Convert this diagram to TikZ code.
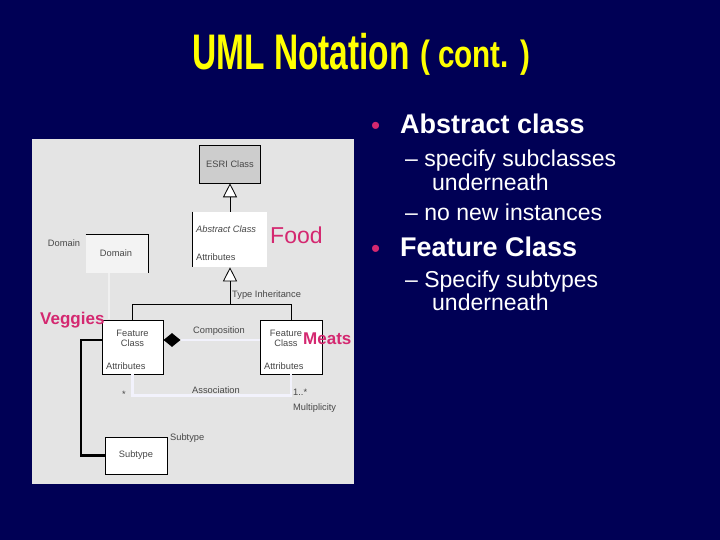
\documentclass[tikz,border=0pt]{standalone}
\usepackage{fontspec}
\usepackage{graphicx}
\setmainfont{Liberation Sans}
\usetikzlibrary{arrows.meta,shapes.geometric}
\definecolor{navy}{RGB}{0,0,85}
\definecolor{panelgray}{RGB}{228,228,228}
\definecolor{esrigray}{RGB}{205,205,205}
\definecolor{domgray}{RGB}{243,243,243}
\definecolor{pinkish}{RGB}{212,40,112}
\definecolor{lightline}{RGB}{242,242,252}
\definecolor{faintline}{RGB}{240,240,240}
\definecolor{titleyellow}{RGB}{255,255,0}
\begin{document}
\begin{tikzpicture}[x=1pt,y=-1pt,
  uml/.style={font=\fontsize{9.3}{10.3}\selectfont, text=black!72, inner sep=0pt},
  umlbox/.style={fill=white, draw=black, line width=0.6pt, inner sep=0pt},
  conn/.style={draw=black, line width=0.8pt},
  gen/.style={-{Triangle[length=14pt,width=14pt,fill=white]}},
  lightconn/.style={draw=lightline, line width=2.6pt},
  subconn/.style={draw=black, line width=2.4pt},
  tag/.style={text=pinkish, inner sep=0pt},
  headbullet/.style={anchor=base west, inner sep=0pt, text=white, font=\bfseries\fontsize{27}{30}\selectfont},
  subitem/.style={anchor=base west, inner sep=0pt, text=white, font=\fontsize{23}{26}\selectfont},
  dot/.style={anchor=base west, inner sep=0pt, text=pinkish, font=\fontsize{26}{26}\selectfont}
]
% background and panel
\fill[navy] (0,0) rectangle (720,540);
\useasboundingbox (0,0) rectangle (720,540);
\fill[panelgray] (32,139) rectangle (354,484);

% title
\node[anchor=base west, inner sep=0pt, text=titleyellow, font=\bfseries\fontsize{50}{50}\selectfont] (title) at (192,70) {\scalebox{0.67}[1]{UML Notation}};
\node[anchor=base west, inner sep=0pt, text=titleyellow, font=\bfseries\fontsize{38}{38}\selectfont] (cont) at (420,68) {\scalebox{0.78}[1]{( cont. )}};

% boxes
\node[umlbox, fill=esrigray, minimum width=61pt, minimum height=38pt] (esri) at (230,164) {};
\node[umlbox, draw=none, minimum width=74pt, minimum height=55pt] (abs) at (230,239.5) {};
\draw[line width=0.6pt] (abs.north west) -- (abs.south west);
\node[umlbox, draw=none, fill=domgray, minimum width=62pt, minimum height=38pt] (dom) at (117,254) {};
\draw[line width=0.6pt] (dom.north west) -- (dom.north east) -- (dom.south east);
\node[umlbox, minimum width=61pt, minimum height=54pt] (fc1) at (132.5,347) {};
\node[umlbox, minimum width=62pt, minimum height=54pt] (fc2) at (291,347) {};
\node[umlbox, minimum width=62pt, minimum height=37pt] (sub) at (136,455.5) {};

% connectors
\coordinate (tj) at ([yshift=-37pt]abs.south);
\draw[conn, gen] (abs.north) -- (esri.south);
\draw[conn] (fc1.north) |- (tj) -| (fc2.north);
\draw[conn, gen] (tj) -- (abs.south);
\coordinate (domend) at ([xshift=-8pt,yshift=-46pt]dom.south);
\draw[faintline, line width=1.5pt] ([xshift=-8pt]dom.south) -- (domend);
\node[diamond, fill=black, aspect=1.25, minimum width=17pt, minimum height=14pt, inner sep=0pt, anchor=west] (diam) at ([yshift=7pt]fc1.east) {};
\draw[lightconn] (diam.east) -- (fc2.west |- diam.east);
\draw[lightconn] (fc1.south) -- ++(0,21) -| (fc2.south);
\draw[subconn] ([yshift=7pt]fc1.west) -- ++(-20.5,0) |- (sub.west);

% texts in the diagram
\node[uml] (esrit) at (esri.center) {ESRI Class};
\node[uml, anchor=west, font=\itshape\fontsize{9.3}{10.3}\selectfont] (abst) at (196,229) {Abstract Class};
\node[uml, anchor=west] (absat) at (196,257) {Attributes};
\node[uml] (domt) at (116,253) {Domain};
\node[uml] (domlab) at (64,243) {Domain};
\node[uml, anchor=west] (til) at (232,295) {Type Inheritance};
\node[uml, align=center] (fc1t) at (132.5,338) {Feature\\Class};
\node[uml, anchor=west] (fc1a) at (106,366) {Attributes};
\node[uml, align=center] (fc2t) at (286,338) {Feature\\Class};
\node[uml, anchor=west] (fc2a) at (264,366) {Attributes};
\node[uml] (compl) at (219,331) {Composition};
\node[uml] (assocl) at (216,390) {Association};
\node[uml] (star) at (124,394) {*};
\node[uml, anchor=west] (mult1) at (293,392) {1..*};
\node[uml, anchor=west] (mult2) at (293,408) {Multiplicity};
\node[uml] (subt) at (136,455) {Subtype};
\node[uml, anchor=west] (sublab) at (170,438) {Subtype};

% pink tags
\node[tag, anchor=west, font=\fontsize{23}{23}\selectfont] (food) at (270,235) {Food};
\node[tag, anchor=west, font=\bfseries\fontsize{17}{17}\selectfont] (veg) at (40,320) {Veggies};
\node[tag, anchor=west, font=\bfseries\fontsize{17}{17}\selectfont] (meat) at (303,339) {Meats};

% right-hand text
\node[dot] (b1) at (371,135) {•};
\node[headbullet] (h1) at (400,134) {Abstract class};
\node[subitem] (s1) at (405,167) {– specify subclasses};
\node[subitem] (s1b) at (432,191) {underneath};
\node[subitem] (s2) at (405,221) {– no new instances};
\node[dot] (b2) at (371,257) {•};
\node[headbullet] (h2) at (400,256) {Feature Class};
\node[subitem] (s3) at (405,287) {– Specify subtypes};
\node[subitem] (s3b) at (432,310) {underneath};
\end{tikzpicture}
\end{document}
